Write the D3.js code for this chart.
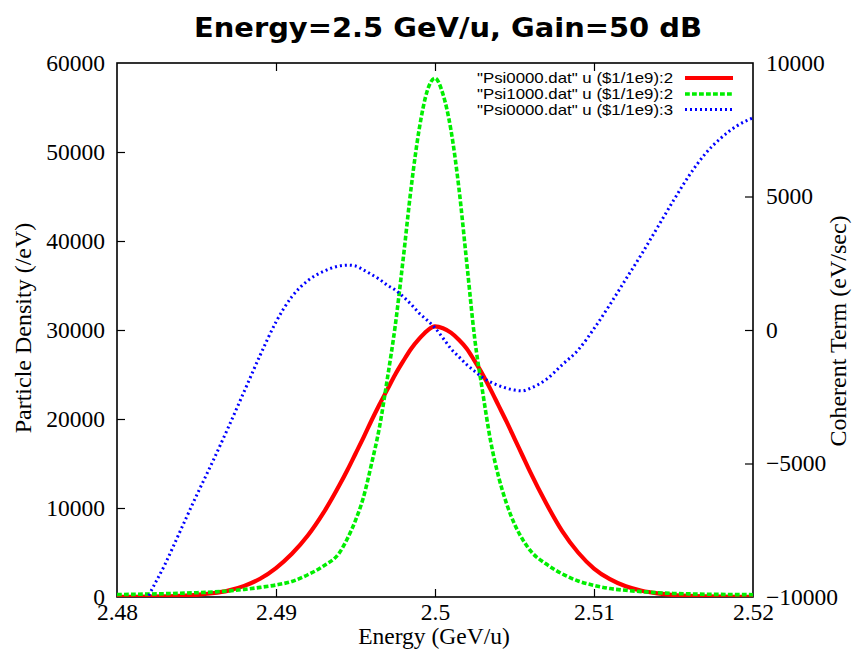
<!DOCTYPE html>
<html>
<head>
<meta charset="utf-8">
<script src="https://cdn.jsdelivr.net/npm/d3@7"></script>
<style>
  html, body { margin: 0; padding: 0; background: #fff; }
  svg { display: block; }
</style>
</head>
<body>
<svg id="chart" width="852" height="653"></svg>
<script>
// ---------------- DATA ----------------
const titleText = "Energy=2.5 GeV/u, Gain=50 dB";
const xLabel = "Energy (GeV/u)";
const yLabel = "Particle Density (/eV)";
const y2Label = "Coherent Term (eV/sec)";

const xTicks = [2.48, 2.49, 2.5, 2.51, 2.52];
const yTicks = [0, 10000, 20000, 30000, 40000, 50000, 60000];
const y2Ticks = [-10000, -5000, 0, 5000, 10000];

const seriesNames = [
  '"Psi0000.dat" u ($1/1e9):2',
  '"Psi1000.dat" u ($1/1e9):2',
  '"Psi0000.dat" u ($1/1e9):3'
];

const energy = [
  2.480, 2.481, 2.482, 2.483, 2.484, 2.485, 2.486, 2.487, 2.488, 2.489,
  2.490, 2.491, 2.492, 2.493, 2.494, 2.4945, 2.495, 2.4955, 2.496, 2.4965,
  2.497, 2.4975, 2.498, 2.4985, 2.499, 2.4995, 2.500, 2.5005, 2.501, 2.5015,
  2.502, 2.5025, 2.503, 2.5035, 2.504, 2.5045, 2.505, 2.5055, 2.506, 2.507,
  2.508, 2.509, 2.510, 2.511, 2.512, 2.513, 2.514, 2.515, 2.516, 2.517,
  2.518, 2.519, 2.520
];

// Psi0000 density (left axis)
const psi0000 = [
  10, 20, 40, 80, 140, 240, 420, 720, 1250, 2050,
  3250, 4850, 6900, 9500, 12600, 14300, 16100, 17900, 19800, 21600,
  23300, 25000, 26500, 27900, 29000, 29900, 30400, 30200, 29700, 28900,
  27900, 26500, 25000, 23300, 21500, 19700, 17800, 15900, 14000, 10500,
  7400, 5000, 3200, 2000, 1200, 700, 400, 220, 120, 70,
  40, 20, 10
];

// Psi1000 density (left axis)
const psi1000 = [
  280, 300, 330, 370, 420, 480, 560, 680, 850, 1080,
  1350, 1750, 2500, 3500, 5000, 6600, 8600, 11200, 14900, 19000,
  24500, 30500, 38000, 46000, 52500, 56800, 58300, 56500, 52500, 46000,
  37500, 29000, 23000, 17500, 13500, 10500, 8200, 6500, 5200, 3700,
  2600, 1800, 1300, 950, 750, 600, 480, 400, 350, 310,
  290, 270, 260
];

// Psi0000 coherent term (right axis)
const coherent = [
  -12700, -11300, -9950, -8800, -7500, -6200, -4950, -3650, -2300, -950,
  300, 1250, 1850, 2200, 2400, 2430, 2400, 2250, 2080, 1900,
  1680, 1500, 1250, 960, 630, 370, 80, -300, -700, -1000,
  -1300, -1550, -1780, -1950, -2080, -2180, -2250, -2280, -2180, -1850,
  -1300, -750, 50, 950, 1900, 2850, 3850, 4850, 5800, 6600,
  7200, 7650, 7950
];

// ---------------- LAYOUT ----------------
const svg = d3.select("#chart");
const L = 117, R = 753, T = 63, B = 597;

const x = d3.scaleLinear().domain([2.48, 2.52]).range([L, R]);
const y = d3.scaleLinear().domain([0, 60000]).range([B, T]);
const y2 = d3.scaleLinear().domain([-10000, 10000]).range([B, T]);

const serif = "'Liberation Serif', 'Times New Roman', serif";
const sans = "'Liberation Sans', Arial, Helvetica, sans-serif";

// Title
svg.append("text")
  .attr("x", 448).attr("y", 37)
  .attr("text-anchor", "middle")
  .style("font-family", "'Comic Sans MS', 'DejaVu Sans', sans-serif")
  .style("font-weight", "bold")
  .style("font-size", "27px")
  .attr("textLength", 508)
  .attr("lengthAdjust", "spacingAndGlyphs")
  .text(titleText);

// Clip
svg.append("defs").append("clipPath").attr("id", "plotclip")
  .append("rect").attr("x", L).attr("y", T).attr("width", R - L).attr("height", B - T);

const tickLen = 8;

const axBottom = d3.axisBottom(x).tickValues(xTicks).tickSize(-tickLen).tickFormat(d3.format(""));
const gB = svg.append("g").attr("transform", `translate(0,${B})`).call(axBottom);
const axTop = d3.axisTop(x).tickValues(xTicks).tickSize(-tickLen).tickFormat("");
const gT = svg.append("g").attr("transform", `translate(0,${T})`).call(axTop);
const axLeft = d3.axisLeft(y).tickValues(yTicks).tickSize(-tickLen).tickFormat(d3.format("d"));
const gL = svg.append("g").attr("transform", `translate(${L},0)`).call(axLeft);
const axRight = d3.axisRight(y2).tickValues(y2Ticks).tickSize(-tickLen).tickFormat(d3.format("d"));
const gR = svg.append("g").attr("transform", `translate(${R},0)`).call(axRight);

[gB, gT, gL, gR].forEach(g => {
  g.attr("font-family", null).attr("font-size", null);
  g.select(".domain").remove();
  g.selectAll(".tick line").attr("stroke", "#000").attr("stroke-width", 1.2);
  g.selectAll(".tick text")
    .style("font-family", serif)
    .style("font-size", "23.5px")
    .attr("fill", "#000");
});
gB.selectAll(".tick text").attr("dy", null).attr("y", 23);
gL.selectAll(".tick text").attr("dy", "0.31em").attr("x", -12);
gR.selectAll(".tick text").attr("dy", "0.31em").attr("x", 13);
gB.selectAll(".tick line").filter(d => d === 2.48 || d === 2.52).remove();
gT.selectAll(".tick line").filter(d => d === 2.48 || d === 2.52).remove();
gL.selectAll(".tick line").filter(d => d === 0 || d === 60000).remove();
gR.selectAll(".tick line").filter(d => d === -10000 || d === 10000).remove();

// Frame
svg.append("rect")
  .attr("x", L).attr("y", T).attr("width", R - L).attr("height", B - T)
  .attr("fill", "none").attr("stroke", "#000").attr("stroke-width", 1.6);

// Axis titles
svg.append("text")
  .attr("x", 434).attr("y", 644)
  .attr("text-anchor", "middle")
  .style("font-family", serif).style("font-size", "23.5px")
  .text(xLabel);
svg.append("text")
  .attr("transform", "translate(31,328) rotate(-90)")
  .attr("text-anchor", "middle")
  .style("font-family", serif).style("font-size", "24px")
  .text(yLabel);
svg.append("text")
  .attr("transform", "translate(846,331) rotate(-90)")
  .attr("text-anchor", "middle")
  .style("font-family", serif).style("font-size", "24px")
  .text(y2Label);

// Series
const idx = d3.range(energy.length);
const lineY = vals => d3.line()
  .x(i => x(energy[i]))
  .y(i => y(vals[i]))
  .curve(d3.curveMonotoneX);
const lineY2 = vals => d3.line()
  .x(i => x(energy[i]))
  .y(i => y2(vals[i]))
  .curve(d3.curveMonotoneX);

const styles = [
  { color: "#ff0000", width: 4.2, dash: null },
  { color: "#00ee00", width: 3.6, dash: "4.8,2.2" },
  { color: "#0000ff", width: 3.0, dash: "2,3" }
];

const plot = svg.append("g").attr("clip-path", "url(#plotclip)");
const paths = [lineY(psi0000)(idx), lineY(psi1000)(idx), lineY2(coherent)(idx)];
paths.forEach((d, k) => {
  const p = plot.append("path")
    .attr("d", d)
    .attr("fill", "none")
    .attr("stroke", styles[k].color)
    .attr("stroke-width", styles[k].width)
    .attr("stroke-linejoin", "round");
  if (styles[k].dash) p.attr("stroke-dasharray", styles[k].dash);
});

// Legend
const legRowsY = [78, 94, 109.5];
seriesNames.forEach((name, k) => {
  svg.append("text")
    .attr("x", 673).attr("y", legRowsY[k])
    .attr("dy", "0.35em")
    .attr("text-anchor", "end")
    .style("font-family", sans).style("font-size", "14.5px")
    .attr("textLength", 196)
    .attr("lengthAdjust", "spacingAndGlyphs")
    .text(name);
  const l = svg.append("line")
    .attr("x1", 685).attr("x2", 733)
    .attr("y1", legRowsY[k]).attr("y2", legRowsY[k])
    .attr("stroke", styles[k].color)
    .attr("stroke-width", styles[k].width);
  if (styles[k].dash) l.attr("stroke-dasharray", styles[k].dash);
});
</script>
</body>
</html>
